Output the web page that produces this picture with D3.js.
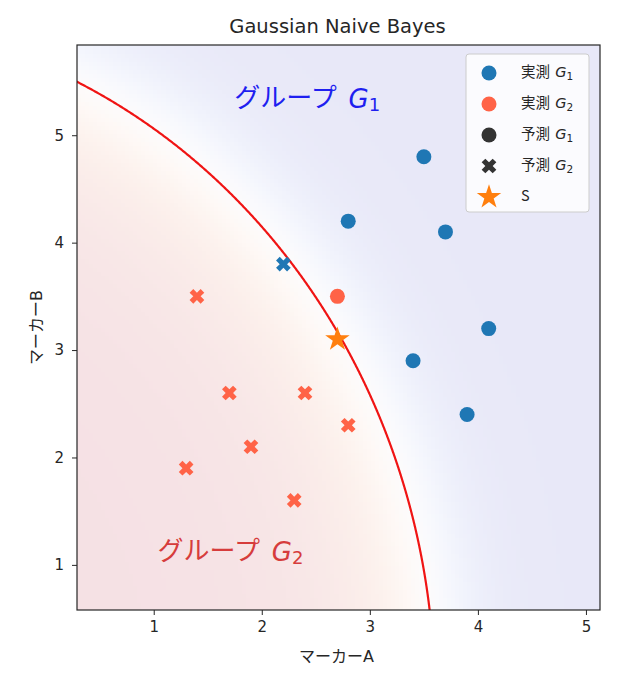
<!DOCTYPE html>
<html>
<head>
<meta charset="utf-8">
<script src="https://cdn.jsdelivr.net/npm/d3@7"></script>
<style>
  body { margin: 0; background: #fff; }
  svg text { font-family: "DejaVu Sans", "Noto Sans CJK JP", sans-serif; fill: #262626; }
</style>
</head>
<body>
<div id="chart"></div>
<script>
// Sample values
const markerA = [3.5, 2.8, 3.7, 4.1, 3.4, 3.9, 2.2, 2.7, 1.4, 1.7, 2.4, 2.8, 1.9, 1.3, 2.3];
const markerB = [4.8, 4.2, 4.1, 3.2, 2.9, 2.4, 3.8, 3.5, 3.5, 2.6, 2.6, 2.3, 2.1, 1.9, 1.6];
const actual  = [1, 1, 1, 1, 1, 1, 1, 2, 2, 2, 2, 2, 2, 2, 2];
const sample  = [2.7, 3.1];
const xTicks = [1, 2, 3, 4, 5];
const yTicks = [1, 2, 3, 4, 5];

// Sets the dimensions of the figure
let w = 619, h = 679;
let plotLeft = 77, plotRight = 600, plotTop = 45, plotBottom = 610;

const svg = d3.select("#chart").append("svg")
  .attr("width", w).attr("height", h);

const x = d3.scaleLinear().domain([0.29, 5.13]).range([plotLeft, plotRight]);
const y = d3.scaleLinear().domain([0.58, 5.84]).range([plotBottom, plotTop]);

// Fits a Gaussian naive Bayes model on the sample points
function fit(g) {
  let xs = markerA.filter((d, i) => actual[i] == g);
  let ys = markerB.filter((d, i) => actual[i] == g);
  let mx = d3.mean(xs), my = d3.mean(ys);
  return {
    mx: mx, my: my,
    vx: d3.mean(xs, d => (d - mx) ** 2),
    vy: d3.mean(ys, d => (d - my) ** 2),
    prior: xs.length / markerA.length
  };
}
const m1 = fit(1), m2 = fit(2);

function logLik(m, a, b) {
  return Math.log(m.prior)
    - 0.5 * (Math.log(2 * Math.PI * m.vx) + (a - m.mx) ** 2 / m.vx)
    - 0.5 * (Math.log(2 * Math.PI * m.vy) + (b - m.my) ** 2 / m.vy);
}
const score = (a, b) => logLik(m1, a, b) - logLik(m2, a, b);
const predicted = markerA.map((a, i) => score(a, markerB[i]) > 0 ? 1 : 2);

svg.append("clipPath").attr("id", "clip")
  .append("rect").attr("x", plotLeft).attr("y", plotTop)
  .attr("width", plotRight - plotLeft).attr("height", plotBottom - plotTop);

// Background shading from the posterior
const shade = d3.interpolateRgbBasis(["#f5e0e4", "#f9e9e8", "#fdf2ec", "#ffffff", "#eff2fc", "#e9e9f8", "#e8e8f8"]);
const nx = 130, ny = 140;
const cellX = (x.domain()[1] - x.domain()[0]) / nx;
const cellY = (y.domain()[1] - y.domain()[0]) / ny;
const cells = [];
for (let j = 0; j < ny; j++) {
  for (let i = 0; i < nx; i++) {
    let a = x.domain()[0] + i * cellX, b = y.domain()[0] + j * cellY;
    cells.push({ a: a, b: b, s: score(a + cellX / 2, b + cellY / 2) });
  }
}
svg.append("g").attr("clip-path", "url(#clip)")
  .selectAll("rect").data(cells).enter().append("rect")
  .attr("x", d => x(d.a))
  .attr("y", d => y(d.b + cellY))
  .attr("width", x(cellX) - x(0) + 0.6)
  .attr("height", y(0) - y(cellY) + 0.6)
  .attr("fill", d => shade(1 / (1 + Math.exp(-d.s / 2.5))))
  .attr("shape-rendering", "crispEdges");

// Decision boundary: right root of the quadratic in A for each B
const qa = -0.5 * (1 / m1.vx - 1 / m2.vx);
const qb = m1.mx / m1.vx - m2.mx / m2.vx;
function boundaryA(b) {
  let c = score(0, b);
  let disc = qb * qb - 4 * qa * c;
  if (disc < 0) return null;
  return (-qb + Math.sqrt(disc)) / (2 * qa);
}
const bVals = d3.range(y.domain()[0] - 0.05, y.domain()[1] + 0.05, 0.005);
const boundary = bVals.map(b => [boundaryA(b), b]).filter(d => d[0] !== null);

svg.append("path").attr("clip-path", "url(#clip)")
  .datum(boundary)
  .attr("fill", "none").attr("stroke", "#f01414").attr("stroke-width", 2.2)
  .attr("d", d3.line().x(d => x(d[0])).y(d => y(d[1])));

// Points
const color = g => g == 1 ? "#1f77b4" : "#ff6347";
const cross = d3.symbol().type(d3.symbolCross).size(135);
const star = d3.symbol().type(d3.symbolStar).size(185);
const points = markerA.map((a, i) => ({ a: a, b: markerB[i], g: actual[i], p: predicted[i] }));

svg.append("g").selectAll("circle")
  .data(points.filter(d => d.p == 1)).enter().append("circle")
  .attr("cx", d => x(d.a)).attr("cy", d => y(d.b)).attr("r", 7.5)
  .attr("fill", d => color(d.g));

svg.append("g").selectAll("path")
  .data(points.filter(d => d.p == 2)).enter().append("path")
  .attr("d", cross)
  .attr("transform", d => "translate(" + x(d.a) + "," + y(d.b) + ") rotate(45)")
  .attr("fill", d => color(d.g));

svg.append("path")
  .attr("d", star)
  .attr("transform", "translate(" + x(sample[0]) + "," + y(sample[1]) + ")")
  .attr("fill", "#ff7f0e");

// Region labels
function groupLabel(tx, ty, n, fill) {
  let t = svg.append("text")
    .attr("x", x(tx)).attr("y", y(ty))
    .attr("text-anchor", "middle").attr("dominant-baseline", "middle")
    .style("font-size", "26px").style("fill", fill);
  t.append("tspan").style("fill", fill).style("font-family", "'Noto Sans CJK JP'").text("グループ ");
  t.append("tspan").attr("dx", 6).style("font-style", "italic").style("fill", fill).text("G");
  t.append("tspan").attr("dy", 6).style("font-size", "18px").style("fill", fill).text(n);
}
groupLabel(2.42, 5.33, "1", "#1f1ff0");
groupLabel(1.71, 1.11, "2", "#d63c3c");

// Axes and frame
const xAxis = svg.append("g")
  .attr("transform", "translate(0," + plotBottom + ")")
  .call(d3.axisBottom(x).tickValues(xTicks).tickFormat(d3.format("d")).tickSize(5).tickPadding(6));
const yAxis = svg.append("g")
  .attr("transform", "translate(" + plotLeft + ",0)")
  .call(d3.axisLeft(y).tickValues(yTicks).tickFormat(d3.format("d")).tickSize(5).tickPadding(8));
[xAxis, yAxis].forEach(ax => {
  ax.select(".domain").remove();
  ax.selectAll("line").attr("stroke", "#262626");
  ax.selectAll("text").style("font-size", "15px").style("fill", "#262626")
    .style("font-family", "'DejaVu Sans', sans-serif");
});
svg.append("rect")
  .attr("x", plotLeft).attr("y", plotTop)
  .attr("width", plotRight - plotLeft).attr("height", plotBottom - plotTop)
  .attr("fill", "none").attr("stroke", "#262626").attr("stroke-width", 1.2);

svg.append("text").attr("x", (plotLeft + plotRight) / 2 - 2).attr("y", 657)
  .attr("text-anchor", "middle").attr("dominant-baseline", "middle")
  .style("font-size", "16px").text("マーカーA");
svg.append("text")
  .attr("transform", "translate(37," + (plotTop + plotBottom) / 2 + ") rotate(-90)")
  .attr("text-anchor", "middle").attr("dominant-baseline", "middle")
  .style("font-size", "16px").text("マーカーB");
svg.append("text").attr("x", (plotLeft + plotRight) / 2 - 1).attr("y", 27)
  .attr("text-anchor", "middle").attr("dominant-baseline", "middle")
  .style("font-size", "19.5px").text("Gaussian Naive Bayes");

// Legend
const legendItems = [
  { label: "実測 ", g: "1", shape: "circle", fill: "#1f77b4" },
  { label: "実測 ", g: "2", shape: "circle", fill: "#ff6347" },
  { label: "予測 ", g: "1", shape: "circle", fill: "#333333" },
  { label: "予測 ", g: "2", shape: "cross", fill: "#333333" },
  { label: "S", g: null, shape: "star", fill: "#ff7f0e" }
];
const legend = svg.append("g").attr("transform", "translate(466,54)");
legend.append("rect").attr("width", 123).attr("height", 158).attr("rx", 3)
  .attr("fill", "#ffffff").attr("fill-opacity", 0.8)
  .attr("stroke", "#cccccc");
const rows = legend.selectAll("g.item").data(legendItems).enter().append("g")
  .attr("class", "item")
  .attr("transform", (d, i) => "translate(23," + (19 + i * 31) + ")");
rows.each(function(d) {
  let g = d3.select(this);
  if (d.shape == "circle") g.append("circle").attr("r", 7.5).attr("fill", d.fill);
  if (d.shape == "cross") g.append("path").attr("d", cross).attr("transform", "rotate(45)").attr("fill", d.fill);
  if (d.shape == "star") g.append("path").attr("d", star).attr("fill", d.fill);
  let t = g.append("text").attr("x", 32).attr("dominant-baseline", "middle").style("font-size", "14.5px");
  t.append("tspan").style("font-family", "'Noto Sans CJK JP'").text(d.label);
  if (d.g) {
    t.append("tspan").attr("dx", 2).style("font-style", "italic").text("G");
    t.append("tspan").attr("dy", 4).style("font-size", "10.5px").text(d.g);
  }
});
</script>
</body>
</html>
